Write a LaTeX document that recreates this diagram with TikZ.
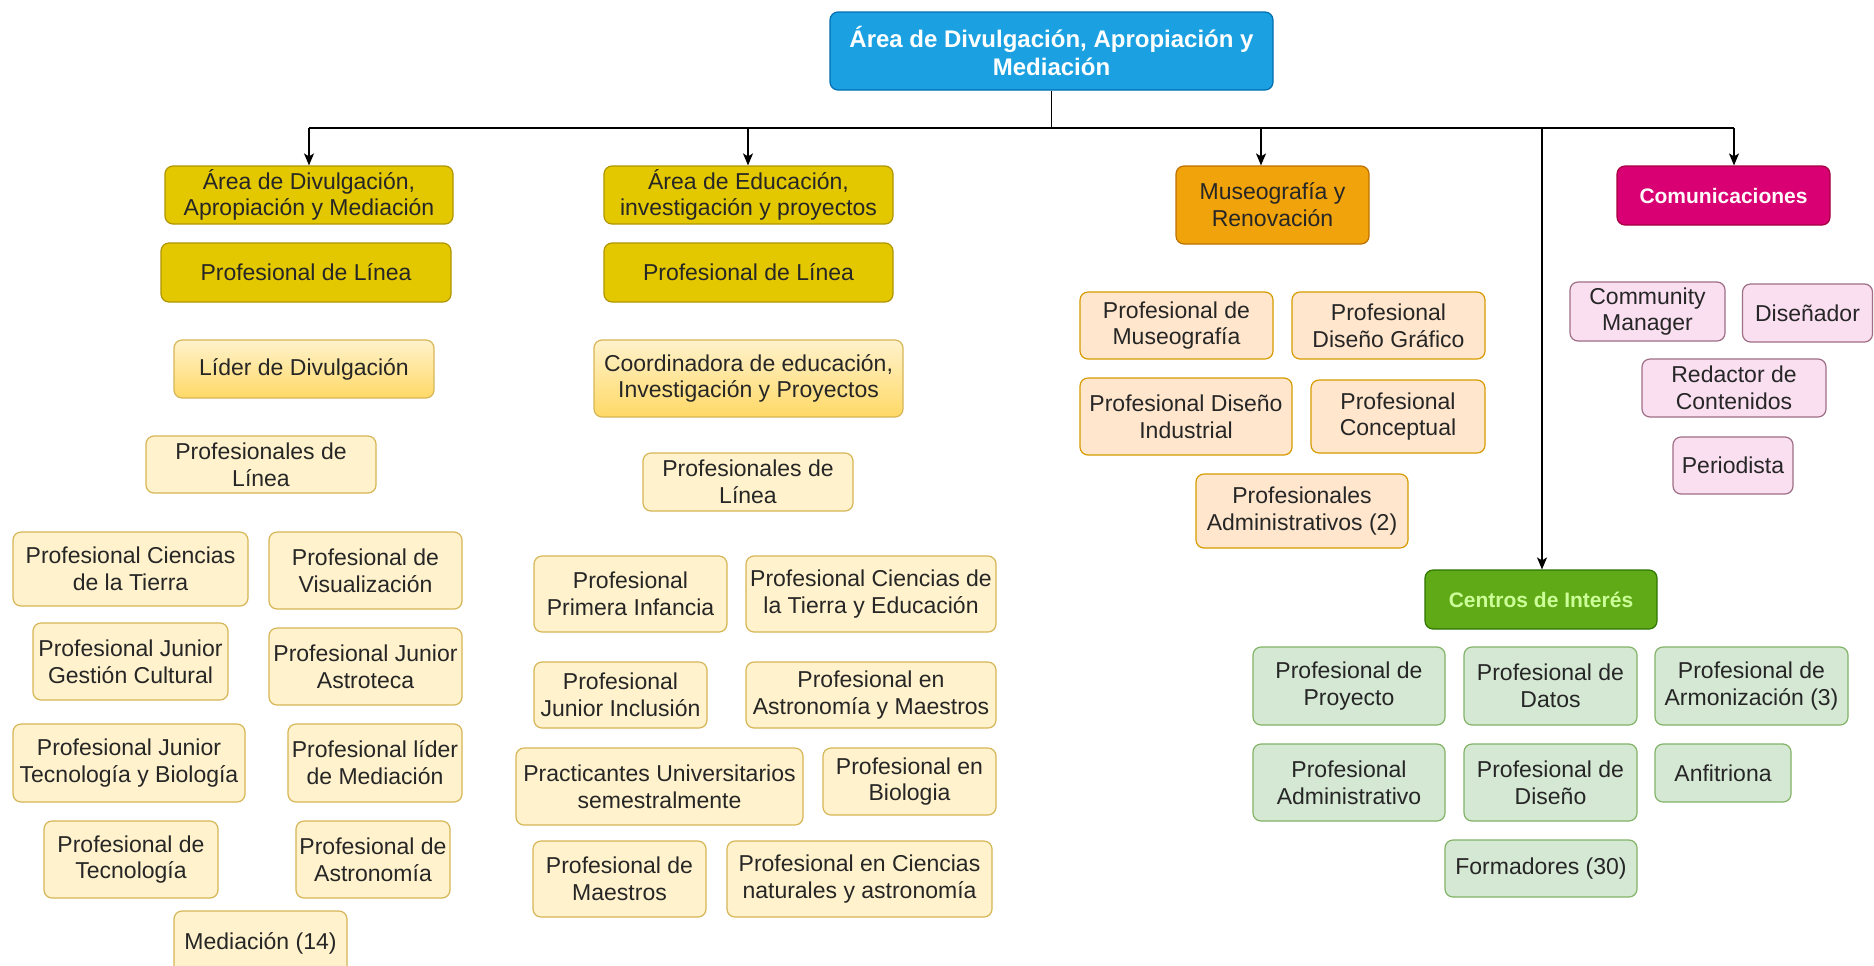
\documentclass[tikz,border=0pt]{standalone}
\usepackage{fontspec}
\setmainfont{Liberation Sans}
\usetikzlibrary{arrows.meta}

\definecolor{topblue}{HTML}{1BA1E2}
\definecolor{topblueline}{HTML}{006EAF}
\definecolor{hdryellow}{HTML}{E3C800}
\definecolor{hdryellowline}{HTML}{B09500}
\definecolor{lightyellow}{HTML}{FFF2CC}
\definecolor{darkyellow}{HTML}{FFD966}
\definecolor{lightyellowline}{HTML}{D6B656}
\definecolor{museoorange}{HTML}{F0A30A}
\definecolor{museoorangeline}{HTML}{BD7000}
\definecolor{peach}{HTML}{FFE6CC}
\definecolor{peachline}{HTML}{D79B00}
\definecolor{commagenta}{HTML}{D80073}
\definecolor{commagentaline}{HTML}{A50040}
\definecolor{compink}{HTML}{FADFF1}
\definecolor{compinkline}{HTML}{9E6E85}
\definecolor{cigreen}{HTML}{60A917}
\definecolor{cigreenline}{HTML}{2D7600}
\definecolor{cigreentext}{HTML}{CCFF99}
\definecolor{lightgreen}{HTML}{D5E8D4}
\definecolor{lightgreenline}{HTML}{82B366}

\tikzset{
  orgbox/.style={draw, rounded corners=4pt, line width=0.6pt, align=center, inner sep=1pt,
    font=\fontsize{11.5}{13.4}\selectfont, text=black!85},
  sz/.style 2 args={minimum width=#1*0.5pt, minimum height=#2*0.5pt},
  boldhdr/.style={orgbox, font=\fontsize{10.5}{12.5}\selectfont\bfseries},
  topbox/.style={orgbox, fill=topblue, draw=topblueline, text=white,
    font=\fontsize{12}{14}\selectfont\bfseries},
  yelhdr/.style={orgbox, fill=hdryellow, draw=hdryellowline},
  yelgrad/.style={orgbox, top color=lightyellow, bottom color=darkyellow, draw=lightyellowline},
  yelbox/.style={orgbox, fill=lightyellow, draw=lightyellowline},
  museohdr/.style={orgbox, fill=museoorange, draw=museoorangeline},
  museobox/.style={orgbox, fill=peach, draw=peachline},
  comhdr/.style={boldhdr, fill=commagenta, draw=commagentaline, text=white!90!pink},
  combox/.style={orgbox, fill=compink, draw=compinkline},
  cihdr/.style={boldhdr, fill=cigreen, draw=cigreenline, text=cigreentext},
  cibox/.style={orgbox, fill=lightgreen, draw=lightgreenline},
  conn/.style={line width=0.75pt, black},
  arr/.style={conn, -{Stealth[length=6pt, width=5pt, inset=1.5pt]}}
}

\begin{document}
\begin{tikzpicture}[x=0.5pt, y=-0.5pt]
  %%%%% START %%%%%

  \fill[white] (0,0) rectangle (1874,965);
  \clip (0,0) rectangle (1874,965);

  \node[topbox, sz={443}{78}] (top) at (1051.5,51) {Área de Divulgación, Apropiación y\\Mediación};

  % divulgacion
  \node[yelhdr, sz={288}{58}] (divA) at (309,195) {Área de Divulgación,\\Apropiación y Mediación};
  \node[yelhdr, sz={290}{59}] (divB) at (306,272.5) {Profesional de Línea};
  \node[yelgrad, sz={260}{58}] (divC) at (304,369) {Líder de Divulgación};
  \node[yelbox, sz={230}{57}] (divD) at (261,464.5) {Profesionales de\\Línea};
  \node[yelbox, sz={235}{74}] (divE) at (130.5,569) {Profesional Ciencias\\de la Tierra};
  \node[yelbox, sz={193}{77}] (divF) at (365.5,570.5) {Profesional de\\Visualización};
  \node[yelbox, sz={195}{77}] (divG) at (130.5,661.5) {Profesional Junior\\Gestión Cultural};
  \node[yelbox, sz={193}{77}] (divH) at (365.5,666.5) {Profesional Junior\\Astroteca};
  \node[yelbox, sz={232}{78}] (divI) at (129,763) {Profesional Junior\\Tecnología y Biología};
  \node[yelbox, sz={174}{78}] (divJ) at (375,763) {Profesional líder\\de Mediación};
  \node[yelbox, sz={174}{77}] (divK) at (131,859.5) {Profesional de\\Tecnología};
  \node[yelbox, sz={154}{77}] (divL) at (373,859.5) {Profesional de\\Astronomía};
  \node[yelbox, sz={173}{64}] (divM) at (260.5,943) {Mediación (14)};

  % educacion
  \node[yelhdr, sz={289}{58}] (eduA) at (748.5,195) {Área de Educación,\\investigación y proyectos};
  \node[yelhdr, sz={289}{59}] (eduB) at (748.5,272.5) {Profesional de Línea};
  \node[yelgrad, sz={309}{77}] (eduC) at (748.5,378.5) {Coordinadora de educación,\\Investigación y Proyectos};
  \node[yelbox, sz={210}{58}] (eduD) at (748,482) {Profesionales de\\Línea};
  \node[yelbox, sz={193}{76}] (eduE) at (630.5,594) {Profesional\\Primera Infancia};
  \node[yelbox, sz={250}{76}] (eduF) at (871,594) {Profesional Ciencias de\\la Tierra y Educación};
  \node[yelbox, sz={173}{66}] (eduG) at (620.5,695) {Profesional\\Junior Inclusión};
  \node[yelbox, sz={250}{66}] (eduH) at (871,695) {Profesional en\\Astronomía y Maestros};
  \node[yelbox, sz={287}{77}] (eduI) at (659.5,786.5) {Practicantes Universitarios\\semestralmente};
  \node[yelbox, sz={173}{67}] (eduJ) at (909.5,781.5) {Profesional en\\Biologia};
  \node[yelbox, sz={173}{76}] (eduK) at (619.5,879) {Profesional de\\Maestros};
  \node[yelbox, sz={265}{76}] (eduL) at (859.5,879) {Profesional en Ciencias\\naturales y astronomía};

  % museografia
  \node[museohdr, sz={193}{78}] (musA) at (1272.5,205) {Museografía y\\Renovación};
  \node[museobox, sz={193}{67}] (musB) at (1176.5,325.5) {Profesional de\\Museografía};
  \node[museobox, sz={193}{67}] (musC) at (1388.5,325.5) {Profesional\\Diseño Gráfico};
  \node[museobox, sz={212}{77}] (musD) at (1186,416.5) {Profesional Diseño\\Industrial};
  \node[museobox, sz={174}{73}] (musE) at (1398,416.5) {Profesional\\Conceptual};
  \node[museobox, sz={212}{74}] (musF) at (1302,511) {Profesionales\\Administrativos (2)};

  % comunicaciones
  \node[comhdr, sz={213}{59}] (comA) at (1723.5,195.5) {Comunicaciones};
  \node[combox, sz={155}{59}] (comB) at (1647.5,311.5) {Community\\Manager};
  \node[combox, sz={130}{58}] (comC) at (1807.5,313) {Diseñador};
  \node[combox, sz={184}{58}] (comD) at (1734,388) {Redactor de\\Contenidos};
  \node[combox, sz={120}{57}] (comE) at (1733,465.5) {Periodista};

  % centros de interes
  \node[cihdr, sz={232}{59}] (cenA) at (1541,599.5) {Centros de Interés};
  \node[cibox, sz={192}{78}] (cenB) at (1349,686) {Profesional de\\Proyecto};
  \node[cibox, sz={173}{78}] (cenC) at (1550.5,686) {Profesional de\\Datos};
  \node[cibox, sz={193}{78}] (cenD) at (1751.5,686) {Profesional de\\Armonización (3)};
  \node[cibox, sz={192}{77}] (cenE) at (1349,782.5) {Profesional\\Administrativo};
  \node[cibox, sz={173}{77}] (cenF) at (1550.5,782.5) {Profesional de\\Diseño};
  \node[cibox, sz={136}{58}] (cenG) at (1723,773) {Anfitriona};
  \node[cibox, sz={192}{57}] (cenH) at (1541,868.5) {Formadores (30)};

  % conectores
  \coordinate (bus1) at (309,128);
  \coordinate (bus2) at (748,128);
  \coordinate (bus3) at (1261,128);
  \coordinate (bus4) at (1542,128);
  \coordinate (bus5) at (1734,128);

  \draw[conn] (top.south) -- (top.south |- bus1);
  \draw[conn] (bus1) -- (bus5);
  \draw[arr] (bus1) -- (bus1 |- divA.north);
  \draw[arr] (bus2) -- (bus2 |- eduA.north);
  \draw[arr] (bus3) -- (bus3 |- musA.north);
  \draw[arr] (bus4) -- (bus4 |- cenA.north);
  \draw[arr] (bus5) -- (bus5 |- comA.north);

  %%%%% END %%%%%
\end{tikzpicture}
\end{document}
